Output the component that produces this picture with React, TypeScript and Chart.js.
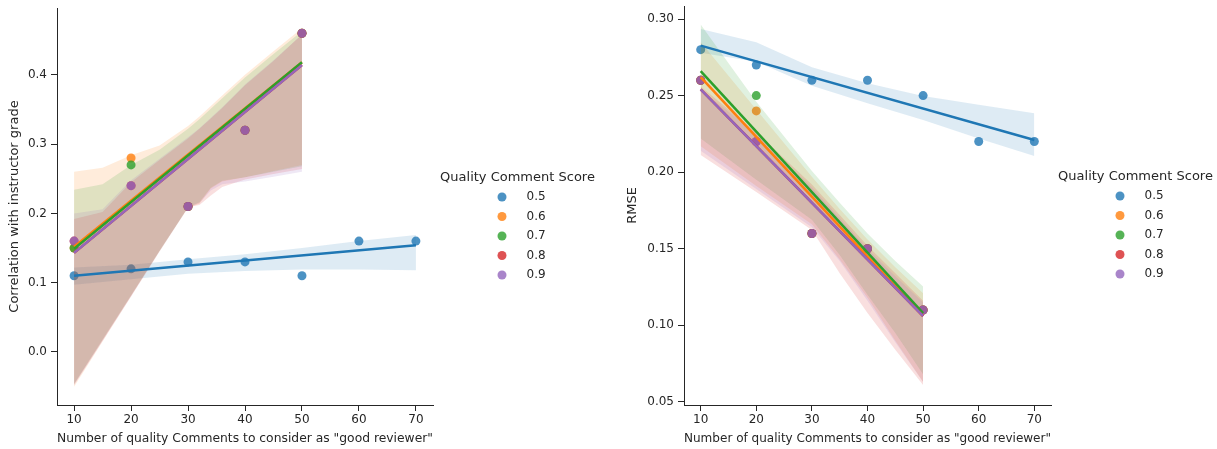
import React, { useEffect, useRef } from 'react';
import { Chart, registerables } from 'chart.js';

Chart.register(...registerables);

const FONT = 'DejaVu Sans';
const TEXT = '#262626';

// ---- shared categories ----
const hueLabels = ['0.5', '0.6', '0.7', '0.8', '0.9'];
const hueColors = ['31,119,180', '255,127,14', '44,160,44', '214,39,40', '148,103,189'];
const legendTitle = 'Quality Comment Score';
const xTitle = 'Number of quality Comments to consider as "good reviewer"';
const xTicks = [10, 20, 30, 40, 50, 60, 70];
const xLong = [10, 20, 30, 40, 50, 60, 70];
const xShort = [10, 20, 30, 40, 50];
const fitXLong = [10, 70];
const fitXShort = [10, 50];

// ---- left panel: correlation ----
const corrTitle = 'Correlation with instructor grade';
const corrTicks = [0.0, 0.1, 0.2, 0.3, 0.4];
const corr05 = [0.11, 0.12, 0.13, 0.13, 0.11, 0.16, 0.16];
const corr06 = [0.15, 0.28, 0.21, 0.32, 0.46];
const corr07 = [0.15, 0.27, 0.21, 0.32, 0.46];
const corr08 = [0.16, 0.24, 0.21, 0.32, 0.46];
const corr09 = [0.16, 0.24, 0.21, 0.32, 0.46];
const corrFit05 = [0.110, 0.154];
const corrFit06 = [0.152, 0.418];
const corrFit07 = [0.149, 0.418];
const corrFit08 = [0.143, 0.414];
const corrFit09 = [0.143, 0.414];
const corrBandX05 = [10, 20, 30, 40, 50, 60, 70];
const corrLo05 = [0.097, 0.105, 0.113, 0.117, 0.119, 0.119, 0.118];
const corrHi05 = [0.122, 0.126, 0.134, 0.141, 0.150, 0.160, 0.169];
const corrBandX = [10, 15, 20, 25, 30, 32, 34, 36, 40, 45, 50];
const corrLo06 = [-0.050, 0.015, 0.080, 0.145, 0.208, 0.214, 0.236, 0.246, 0.252, 0.261, 0.270];
const corrHi06 = [0.260, 0.266, 0.284, 0.298, 0.326, 0.340, 0.355, 0.370, 0.400, 0.434, 0.467];
const corrLo07 = [-0.046, 0.018, 0.082, 0.146, 0.209, 0.216, 0.237, 0.247, 0.252, 0.260, 0.268];
const corrHi07 = [0.234, 0.242, 0.270, 0.292, 0.322, 0.336, 0.351, 0.366, 0.396, 0.430, 0.463];
const corrLo08 = [-0.047, 0.017, 0.081, 0.146, 0.209, 0.212, 0.226, 0.238, 0.249, 0.257, 0.264];
const corrHi08 = [0.192, 0.202, 0.245, 0.277, 0.308, 0.322, 0.337, 0.352, 0.385, 0.420, 0.458];
const corrLo09 = [-0.048, 0.016, 0.080, 0.145, 0.208, 0.215, 0.233, 0.242, 0.246, 0.253, 0.260];
const corrHi09 = [0.200, 0.206, 0.248, 0.279, 0.310, 0.323, 0.338, 0.353, 0.386, 0.421, 0.458];

// ---- right panel: RMSE ----
const rmseTitle = 'RMSE';
const rmseTicks = [0.05, 0.10, 0.15, 0.20, 0.25, 0.30];
const rmse05 = [0.28, 0.27, 0.26, 0.26, 0.25, 0.22, 0.22];
const rmse06 = [0.26, 0.24, 0.16, 0.15, 0.11];
const rmse07 = [0.26, 0.25, 0.16, 0.15, 0.11];
const rmse08 = [0.26, 0.22, 0.16, 0.15, 0.11];
const rmse09 = [0.26, 0.22, 0.16, 0.15, 0.11];
const rmseFit05 = [0.2826, 0.221];
const rmseFit06 = [0.262, 0.106];
const rmseFit07 = [0.266, 0.108];
const rmseFit08 = [0.254, 0.106];
const rmseFit09 = [0.254, 0.106];
const rmseBandX05 = [10, 20, 30, 40, 50, 60, 70];
const rmseLo05 = [0.278, 0.2721, 0.2565, 0.245, 0.2341, 0.222, 0.2106];
const rmseHi05 = [0.2935, 0.2848, 0.2685, 0.258, 0.2497, 0.244, 0.2384];
const rmseBandX = [10, 20, 30, 35, 40, 45, 50];
const rmseLo06 = [0.217, 0.191, 0.166, 0.143, 0.118, 0.090, 0.063];
const rmseHi06 = [0.285, 0.241, 0.197, 0.176, 0.156, 0.138, 0.121];
const rmseLo07 = [0.222, 0.195, 0.169, 0.146, 0.120, 0.095, 0.068];
const rmseHi07 = [0.2965, 0.246, 0.2007, 0.180, 0.160, 0.142, 0.1253];
const rmseLo08 = [0.2112, 0.187, 0.1623, 0.134, 0.108, 0.084, 0.0611];
const rmseHi08 = [0.256, 0.226, 0.192, 0.172, 0.152, 0.134, 0.116];
const rmseLo09 = [0.214, 0.189, 0.164, 0.142, 0.116, 0.089, 0.063];
const rmseHi09 = [0.254, 0.225, 0.190, 0.170, 0.150, 0.132, 0.115];

type Series = {
  x: number[]; y: number[];
  fitX: number[]; fitY: number[];
  bandX: number[]; lo: number[]; hi: number[];
};

const corrSeries: Series[] = [
  { x: xLong, y: corr05, fitX: fitXLong, fitY: corrFit05, bandX: corrBandX05, lo: corrLo05, hi: corrHi05 },
  { x: xShort, y: corr06, fitX: fitXShort, fitY: corrFit06, bandX: corrBandX, lo: corrLo06, hi: corrHi06 },
  { x: xShort, y: corr07, fitX: fitXShort, fitY: corrFit07, bandX: corrBandX, lo: corrLo07, hi: corrHi07 },
  { x: xShort, y: corr08, fitX: fitXShort, fitY: corrFit08, bandX: corrBandX, lo: corrLo08, hi: corrHi08 },
  { x: xShort, y: corr09, fitX: fitXShort, fitY: corrFit09, bandX: corrBandX, lo: corrLo09, hi: corrHi09 },
];

const rmseSeries: Series[] = [
  { x: xLong, y: rmse05, fitX: fitXLong, fitY: rmseFit05, bandX: rmseBandX05, lo: rmseLo05, hi: rmseHi05 },
  { x: xShort, y: rmse06, fitX: fitXShort, fitY: rmseFit06, bandX: rmseBandX, lo: rmseLo06, hi: rmseHi06 },
  { x: xShort, y: rmse07, fitX: fitXShort, fitY: rmseFit07, bandX: rmseBandX, lo: rmseLo07, hi: rmseHi07 },
  { x: xShort, y: rmse08, fitX: fitXShort, fitY: rmseFit08, bandX: rmseBandX, lo: rmseLo08, hi: rmseHi08 },
  { x: xShort, y: rmse09, fitX: fitXShort, fitY: rmseFit09, bandX: rmseBandX, lo: rmseLo09, hi: rmseHi09 },
];

const pts = (xs: number[], ys: number[]) => xs.map((x, j) => ({ x, y: ys[j] }));

type PanelProps = {
  left: number; width: number; series: Series[];
  yMin: number; yMax: number; yTicks: number[]; yDec: number; yTitle: string;
  axisWidth: number; yTitlePad: number; topPad: number; rightPad: number;
};

function Panel(p: PanelProps) {
  const ref = useRef<HTMLCanvasElement>(null);
  useEffect(() => {
    if (!ref.current) return;
    const datasets: any[] = [];
    // collections (scatter + bands) in hue order
    p.series.forEach((s, i) => {
      const c = hueColors[i];
      datasets.push({
        type: 'scatter', label: hueLabels[i], data: pts(s.x, s.y),
        backgroundColor: `rgba(${c},0.8)`, borderWidth: 0, borderColor: 'transparent',
        pointRadius: 4.5, pointHoverRadius: 4.5,
      });
      const loIdx = datasets.length;
      datasets.push({
        type: 'line', data: pts(s.bandX, s.lo), borderColor: 'transparent', borderWidth: 0,
        pointRadius: 0, fill: false, tension: 0,
      });
      datasets.push({
        type: 'line', data: pts(s.bandX, s.hi), borderColor: 'transparent', borderWidth: 0,
        pointRadius: 0, fill: loIdx, backgroundColor: `rgba(${c},0.15)`, tension: 0,
      });
    });
    // regression lines on top
    p.series.forEach((s, i) => {
      datasets.push({
        type: 'line', data: pts(s.fitX, s.fitY), borderColor: `rgb(${hueColors[i]})`,
        borderWidth: 2.5, pointRadius: 0, fill: false, tension: 0, borderCapStyle: 'butt',
      });
    });
    const n = datasets.length;
    datasets.forEach((d, k) => { d.order = n - k; });

    const legendPlugin = {
      id: 'hueLegend',
      afterDraw(chart: any) {
        const { ctx, chartArea } = chart;
        const cy = (chartArea.top + chartArea.bottom) / 2;
        const r = chartArea.right;
        ctx.save();
        ctx.fillStyle = TEXT;
        ctx.font = `13px "${FONT}"`;
        ctx.textAlign = 'center';
        ctx.textBaseline = 'middle';
        ctx.fillText(legendTitle, r + 84.5, cy - 28.5);
        hueLabels.forEach((lab, i) => {
          const y = cy - 9.5 + i * 19.5;
          ctx.beginPath();
          ctx.arc(r + 69, y, 4.5, 0, Math.PI * 2);
          ctx.fillStyle = `rgba(${hueColors[i]},0.8)`;
          ctx.fill();
          ctx.fillStyle = TEXT;
          ctx.font = `12px "${FONT}"`;
          ctx.textAlign = 'left';
          ctx.fillText(lab, r + 93.5, y);
        });
        ctx.restore();
      },
    };

    const chart = new Chart(ref.current, {
      type: 'line',
      data: { datasets },
      options: {
        animation: false,
        responsive: false,
        maintainAspectRatio: false,
        layout: { padding: { top: p.topPad, right: p.rightPad, left: 0, bottom: 0 } },
        plugins: { legend: { display: false }, tooltip: { enabled: false } },
        elements: { line: { tension: 0 } },
        scales: {
          x: {
            type: 'linear', min: 7, max: 73,
            afterBuildTicks: (s: any) => { s.ticks = xTicks.map((v) => ({ value: v })); },
            afterFit: (s: any) => { s.height = 44; s.paddingLeft = 0; s.paddingRight = 0; },
            grid: { display: true, drawOnChartArea: false, drawTicks: true, tickLength: 6, color: TEXT, lineWidth: 1 },
            border: { display: true, color: TEXT, width: 1 },
            ticks: {
              color: TEXT, font: { family: FONT, size: 12 }, padding: 2,
              maxRotation: 0, autoSkip: false, callback: (v: any) => String(v),
            },
            title: {
              display: true, text: xTitle, color: TEXT,
              font: { family: FONT, size: 13 }, padding: { top: 0, bottom: 2.5 },
            },
          },
          y: {
            type: 'linear', min: p.yMin, max: p.yMax,
            afterBuildTicks: (s: any) => { s.ticks = p.yTicks.map((v) => ({ value: v })); },
            afterFit: (s: any) => { s.width = p.axisWidth; s.paddingTop = 0; s.paddingBottom = 0; },
            grid: { display: true, drawOnChartArea: false, drawTicks: true, tickLength: 6, color: TEXT, lineWidth: 1 },
            border: { display: true, color: TEXT, width: 1 },
            ticks: {
              color: TEXT, font: { family: FONT, size: 12 }, padding: 4,
              autoSkip: false, callback: (v: any) => Number(v).toFixed(p.yDec),
            },
            title: {
              display: true, text: p.yTitle, color: TEXT,
              font: { family: FONT, size: 13 }, padding: { top: p.yTitlePad, bottom: 0 },
            },
          },
        },
      } as any,
      plugins: [legendPlugin],
    });
    return () => chart.destroy();
  }, []);
  return (
    <canvas
      ref={ref}
      width={p.width}
      height={449}
      style={{ position: 'absolute', left: p.left, top: 0, width: p.width, height: 449 }}
    />
  );
}

export default function App() {
  return (
    <div style={{ position: 'absolute', left: 0, top: 0, width: 1217, height: 449, background: '#fff', fontFamily: FONT }}>
      <Panel
        left={0} width={605} series={corrSeries}
        yMin={-0.0765} yMax={0.4964} yTicks={corrTicks} yDec={1} yTitle={corrTitle}
        axisWidth={57} yTitlePad={7} topPad={8} rightPad={172}
      />
      <Panel
        left={605} width={612} series={rmseSeries}
        yMin={0.048} yMax={0.3085} yTicks={rmseTicks} yDec={2} yTitle={rmseTitle}
        axisWidth={79} yTitlePad={20} topPad={6} rightPad={166}
      />
    </div>
  );
}
